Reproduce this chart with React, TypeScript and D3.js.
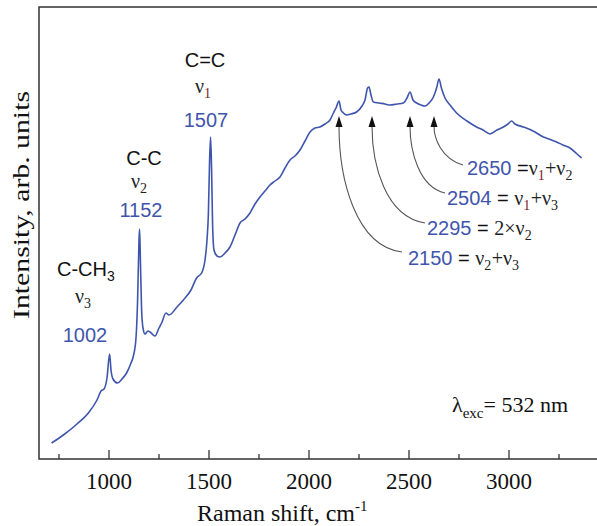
import React from "react";
import * as d3 from "d3";

// Raman spectrum (cm-1 / arb. units)
const shift = [
  713, 772, 840, 897, 940, 960, 975, 990, 1003, 1010, 1020, 1042, 1065, 1088, 1110, 1122, 1135, 1143, 1150, 1153,
  1157, 1163, 1170, 1180, 1195, 1205, 1230, 1250, 1263, 1285, 1300, 1340, 1372, 1410, 1438, 1463, 1480, 1490, 1497,
  1503, 1508, 1513, 1518, 1525, 1540, 1555, 1580, 1605, 1630, 1655, 1680, 1705, 1730, 1755, 1780, 1805, 1830, 1855,
  1880, 1905, 1930, 1955, 1980, 2005, 2030, 2055, 2080, 2105, 2122, 2135, 2150, 2160, 2172, 2188, 2210, 2238, 2265,
  2280, 2293, 2300, 2310, 2322, 2350, 2380, 2405, 2440, 2472, 2490, 2505, 2520, 2538, 2560, 2580, 2605, 2622, 2638,
  2650, 2662, 2680, 2705, 2738, 2790, 2838, 2870, 2905, 2940, 2972, 2995, 3013, 3030, 3072, 3120, 3172, 3200, 3238,
  3270, 3305, 3340, 3363,
];
const intensity = [
  16, 24, 35, 46, 59, 68, 70, 81, 105, 89, 80, 76, 80, 86, 96, 103, 121, 159, 219, 230,
  199, 149, 131, 125, 128, 127, 123, 131, 136, 146, 144, 152, 159, 169, 181, 186, 199, 219, 246,
  299, 322, 289, 234, 209, 203, 202, 206, 212, 224, 236, 240, 246, 255, 262, 268, 274, 278, 282,
  291, 299, 303, 309, 318, 327, 331, 332, 335, 339, 346, 351, 358, 349, 346, 344, 345, 347, 353,
  359, 371, 372, 364, 357, 356, 355, 354, 355, 356, 361, 367, 359, 356, 354, 353, 357, 362, 371,
  380, 371, 361, 354, 346, 338, 332, 329, 325, 329, 332, 335, 338, 335, 332, 328, 322, 320, 317,
  314, 311, 305, 301,
];

const majorTicks = [1000, 1500, 2000, 2500, 3000];
const minorTicks = [750, 1250, 1750, 2250, 2750, 3250];

// where each annotation arrow points (cm-1, as drawn in the figure)
const arrowAt = [2150, 2315, 2505, 2625];

const W = 597;
const H = 526;
const left = 39;
const top = 7;
const bottom = 459;

const blue = "#3f55ad";
const red = "#7b1f1f";
const serif = "'Liberation Serif', 'Times New Roman', serif";
const sans = "'Liberation Sans', Arial, sans-serif";

const Nu = ({ sub, size = 20 }: { sub: string; size?: number }) => (
  <>
    <tspan fontFamily={serif} fontSize={size} fill="#222">ν</tspan>
    <tspan fontFamily={serif} fontSize={size * 0.7} dy={5} fill={sub === "1" ? red : "#222"}>{sub}</tspan>
    <tspan dy={-5} fontSize={1}> </tspan>
  </>
);

export default function App() {
  const x = d3.scaleLinear().domain([650, 3440]).range([left, W]);
  const y = d3.scaleLinear().domain([0, 452]).range([bottom, top]);

  const pts = shift.map((s, i) => [s, intensity[i]] as [number, number]);
  const line = d3
    .line<[number, number]>()
    .x((d) => x(d[0]))
    .y((d) => y(d[1]))
    .curve(d3.curveMonotoneX);

  // arrow tails sit just left of each label
  const tails = [
    [402, 252],
    [425, 223],
    [445, 193],
    [463, 165],
  ];
  const tipY = 116;

  return (
    <svg width={W} height={H} style={{ position: "absolute", left: 0, top: 0, background: "#fff" }}>
      {/* frame */}
      <path d={`M${W},${top}H${left}V${bottom}H${W}`} fill="none" stroke="#333" strokeWidth={1.5} />
      {majorTicks.map((t) => (
        <line key={t} x1={x(t)} x2={x(t)} y1={bottom} y2={bottom - 9} stroke="#333" strokeWidth={1.3} />
      ))}
      {minorTicks.map((t) => (
        <line key={t} x1={x(t)} x2={x(t)} y1={bottom} y2={bottom - 5} stroke="#333" strokeWidth={1.3} />
      ))}
      {majorTicks.map((t) => (
        <text key={t} x={x(t)} y={489} textAnchor="middle" fontFamily={serif} fontSize={23} fill="#111">
          {t}
        </text>
      ))}
      <text x={197} y={521} fontFamily={serif} fontSize={24} fill="#111">
        Raman shift, cm<tspan dy={-10} fontSize={15}>-1</tspan>
      </text>
      <text
        transform="translate(29,205) rotate(-90)"
        textAnchor="middle"
        fontFamily={serif}
        fontSize={24}
        fill="#111"
        textLength={228}
        lengthAdjust="spacingAndGlyphs"
      >
        Intensity, arb. units
      </text>

      {/* spectrum */}
      <path d={line(pts) || ""} fill="none" stroke={blue} strokeWidth={1.6} />

      {/* main band labels */}
      <g fontFamily={sans} fontSize={20} textAnchor="middle">
        <text x={205} y={67} fill="#111">C=C</text>
        <text x={203} y={93}><Nu sub="1" /></text>
        <text x={206} y={127} fill={blue}>1507</text>

        <text x={144} y={165} fill="#111">C-C</text>
        <text x={139} y={188}><Nu sub="2" /></text>
        <text x={141} y={217} fill={blue}>1152</text>

        <text x={57} y={276} textAnchor="start" fill="#111">
          C-CH<tspan dy={5} fontSize={14}>3</tspan>
        </text>
        <text x={83} y={303}><Nu sub="3" /></text>
        <text x={85} y={342} fill={blue}>1002</text>
      </g>

      {/* combination bands */}
      {arrowAt.map((p, i) => {
        const tx = x(p);
        const [ex, ey] = tails[i];
        return (
          <g key={p}>
            <path
              d={`M${ex},${ey}C${tx + (ex - tx) * 0.25},${ey - 6} ${tx},${tipY + (ey - tipY) * 0.45} ${tx},${tipY + 10}`}
              fill="none"
              stroke="#555"
              strokeWidth={1.1}
            />
            <path d={`M${tx},${tipY}L${tx - 3.5},${tipY + 11}L${tx + 3.5},${tipY + 11}Z`} fill="#111" />
          </g>
        );
      })}
      <g fontFamily={sans} fontSize={20}>
        <text x={467} y={175}>
          <tspan fill={blue}>2650</tspan>
          <tspan fill="#111"> =</tspan>
          <Nu sub="1" />
          <tspan fontFamily={serif} fill="#222">+</tspan>
          <Nu sub="2" />
        </text>
        <text x={447} y={205}>
          <tspan fill={blue}>2504</tspan>
          <tspan fill="#111"> = </tspan>
          <Nu sub="1" />
          <tspan fontFamily={serif} fill="#222">+</tspan>
          <Nu sub="3" />
        </text>
        <text x={427} y={235}>
          <tspan fill={blue}>2295</tspan>
          <tspan fill="#111"> = </tspan>
          <tspan fontFamily={serif} fill="#222">2×</tspan>
          <Nu sub="2" />
        </text>
        <text x={408} y={265}>
          <tspan fill={blue}>2150</tspan>
          <tspan fill="#111"> = </tspan>
          <Nu sub="2" />
          <tspan fontFamily={serif} fill="#222">+</tspan>
          <Nu sub="3" />
        </text>
      </g>

      <text x={452} y={412} fontFamily={serif} fontSize={22} fill="#111">
        λ<tspan dy={6} fontSize={15}>exc</tspan>
        <tspan dy={-6}>= 532 nm</tspan>
      </text>
    </svg>
  );
}
